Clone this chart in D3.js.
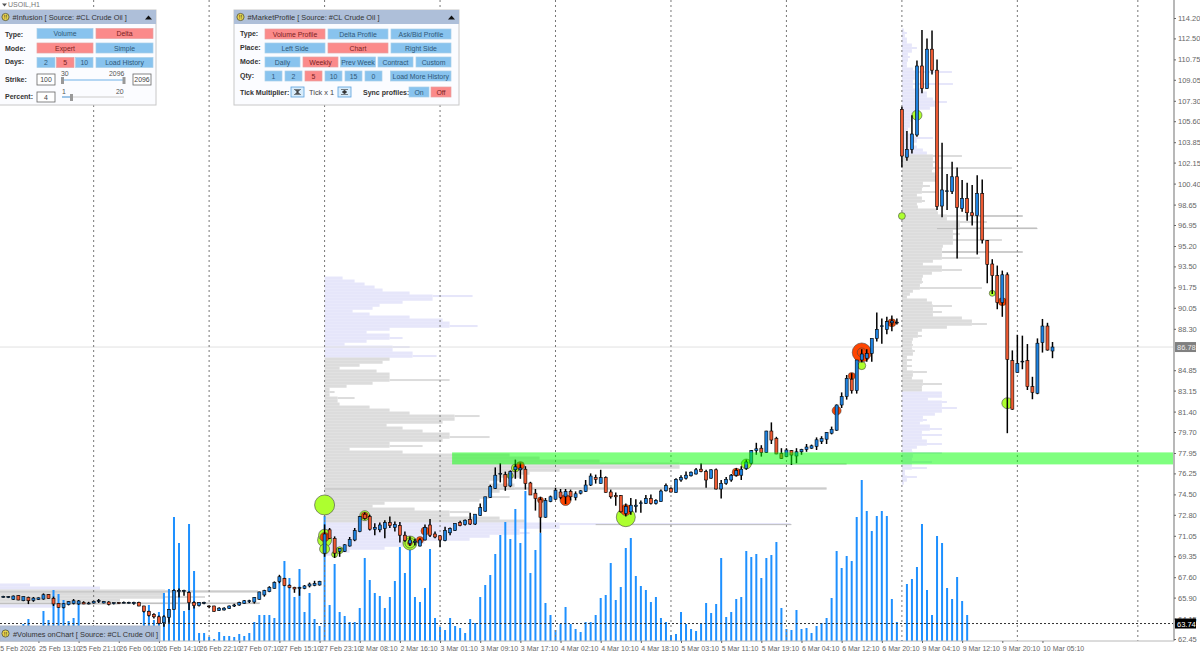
<!DOCTYPE html>
<html>
<head>
<meta charset="utf-8">
<style>
  html, body { margin: 0; padding: 0; background: #fff; overflow: hidden; }
  svg { display: block; font-family: "Liberation Sans", Arial, sans-serif; }
</style>
</head>
<body>
<svg id="chart" width="1200" height="654"></svg>
<script src="https://cdn.jsdelivr.net/npm/d3@7"></script>
<script>
// hourly candles, one value per bar
const opens = [
  65.92,65.90,65.76,66.06,65.64,65.92,65.67,65.75,65.78,66.17,
  65.84,65.42,65.06,65.31,65.42,65.37,65.50,65.37,65.45,65.60,
  65.45,65.53,65.40,65.48,65.48,65.47,65.40,65.50,65.20,64.76,
  64.50,64.30,63.80,64.26,64.92,66.40,66.42,66.31,65.48,65.23,
  65.42,65.20,65.20,64.82,64.87,65.00,65.20,65.28,65.42,65.56,
  65.53,65.76,66.12,66.40,66.67,67.23,67.50,66.92,66.76,66.65,
  66.67,66.87,66.92,66.95,69.60,71.55,70.84,69.75,69.75,70.20,
  70.70,71.40,72.85,72.65,71.60,71.55,71.65,72.15,71.75,71.90,
  71.10,70.40,70.50,70.20,70.70,71.95,71.20,71.05,70.65,71.30,
  71.50,72.15,71.98,72.40,72.03,72.75,73.10,74.25,75.00,76.25,
  76.15,75.20,76.55,76.55,76.60,75.45,74.60,74.05,72.60,73.90,
  74.10,74.70,74.30,74.75,74.25,74.60,74.75,75.28,75.90,75.42,
  75.90,74.70,74.40,74.40,72.90,73.05,73.50,73.75,73.75,74.15,
  73.75,73.90,74.80,75.00,74.65,75.70,75.85,76.05,76.20,76.60,
  76.40,75.85,76.55,74.95,75.42,75.70,76.10,76.10,76.65,77.10,
  78.15,78.35,77.98,79.78,79.17,77.92,77.65,78.15,77.70,78.05,
  78.25,78.35,78.50,78.90,79.10,79.60,79.85,81.95,82.65,84.10,
  83.15,85.70,85.85,86.25,87.50,88.50,88.25,88.80,88.80,106.58,
  102.60,103.25,104.45,110.20,108.33,111.60,109.85,98.53,99.80,99.73,
  100.97,98.33,99.17,97.97,97.73,99.58,95.65,93.70,92.73,90.48,
  92.80,85.65,84.65,85.55,85.65,83.48,82.93,87.15,88.53,86.45
];
const highs = [
  66.05,66.02,66.08,66.10,66.00,65.98,65.95,65.92,66.25,66.20,
  65.98,65.45,65.42,65.60,65.78,65.70,65.60,65.55,65.65,65.78,
  65.62,65.60,65.50,65.52,65.58,65.55,65.55,65.55,65.22,64.80,
  64.60,64.40,64.42,64.95,66.60,66.65,66.55,66.42,65.60,65.53,
  65.55,65.25,65.22,65.10,65.10,65.25,65.38,65.55,65.70,65.72,
  65.95,66.40,66.55,66.85,67.25,67.80,67.55,67.00,66.80,66.80,
  66.95,67.15,67.30,67.30,72.00,71.70,71.00,70.00,70.35,70.95,
  71.70,72.70,73.00,72.80,72.10,72.15,72.35,72.65,72.25,72.20,
  71.40,71.00,70.80,70.85,72.00,72.45,71.40,71.10,71.80,71.75,
  72.10,72.30,72.40,72.98,72.85,73.75,74.30,75.30,76.75,77.10,
  76.40,76.50,77.40,77.15,76.85,75.55,74.95,74.30,74.20,74.40,
  75.05,74.95,74.95,74.90,74.75,74.85,75.70,76.25,76.15,76.55,
  76.00,74.90,74.65,74.45,73.75,74.20,74.10,74.00,74.45,74.50,
  74.10,74.90,75.40,75.10,75.85,76.10,76.40,76.40,76.70,77.10,
  76.55,76.60,76.65,75.70,75.95,76.20,76.70,76.85,77.40,78.20,
  78.80,78.60,79.80,80.50,79.30,78.35,78.35,78.20,78.35,78.30,
  78.70,78.65,79.25,79.35,79.70,80.15,82.00,83.00,84.45,84.60,
  85.70,86.60,86.60,87.50,89.65,89.15,89.30,89.40,89.15,106.80,
  104.78,106.10,110.65,113.20,112.50,113.15,110.75,103.80,101.20,102.23,
  101.75,100.70,100.47,100.28,101.10,100.75,95.70,94.10,93.57,93.15,
  93.00,86.50,87.80,87.73,87.03,84.30,87.50,89.12,88.80,87.20
];
const lows = [
  65.90,65.86,65.70,65.68,65.60,65.36,65.55,65.70,65.72,65.80,
  65.20,65.05,65.00,65.25,65.33,65.30,65.35,65.33,65.40,65.45,
  65.42,65.25,65.33,65.38,65.42,65.40,65.30,65.18,64.65,64.32,
  64.15,63.68,63.47,63.80,64.90,65.90,66.05,64.87,65.00,65.15,
  65.35,65.02,64.72,64.78,64.82,64.95,65.12,65.22,65.38,65.45,
  65.40,65.72,65.98,66.35,66.65,67.10,66.85,66.68,66.30,66.05,
  66.60,66.75,66.85,66.90,69.30,70.80,69.20,69.30,69.70,70.15,
  70.60,71.35,72.40,71.50,71.10,71.35,70.85,71.70,71.40,70.50,
  70.55,70.20,70.25,70.15,70.65,70.95,70.85,70.10,70.60,71.10,
  71.45,71.85,71.90,71.95,71.95,72.70,73.05,74.20,74.95,75.50,
  74.80,75.10,75.80,75.80,74.90,74.45,73.15,71.30,72.55,73.85,
  74.05,74.10,73.70,74.00,74.00,74.50,74.70,75.20,75.40,75.40,
  74.65,74.15,73.55,73.00,72.65,72.80,73.00,72.97,73.70,73.65,
  73.65,73.88,74.75,74.65,74.63,75.55,75.75,76.00,76.15,76.35,
  75.05,75.80,74.90,74.15,75.30,75.55,76.00,75.70,76.55,77.00,
  77.80,77.65,77.95,78.70,77.85,77.45,77.60,76.95,77.10,77.80,
  78.05,78.30,78.20,78.70,78.70,79.50,79.80,81.70,82.40,82.90,
  82.90,85.50,85.55,85.55,87.25,87.05,87.85,88.10,88.65,101.75,
  102.30,102.90,104.30,107.92,108.30,109.50,98.20,97.60,98.20,99.53,
  94.15,98.05,97.30,96.90,94.50,95.40,92.10,91.20,89.93,89.30,
  79.60,81.55,84.65,84.93,83.20,82.43,82.85,86.32,86.48,85.85
];
const closes = [
  66.00,65.98,66.03,65.70,65.98,65.64,65.86,65.88,66.14,65.81,
  65.37,65.09,65.39,65.56,65.64,65.62,65.37,65.45,65.59,65.65,
  65.58,65.34,65.48,65.42,65.50,65.50,65.50,65.20,64.76,64.42,
  64.30,63.76,64.30,64.92,66.48,66.48,66.48,65.48,65.23,65.50,
  65.50,65.14,64.76,65.02,65.02,65.20,65.28,65.48,65.64,65.64,
  65.92,66.37,66.48,66.76,67.17,67.64,66.90,66.73,66.62,66.73,
  66.87,67.03,67.09,67.25,71.20,70.84,69.60,70.00,70.30,70.75,
  71.48,72.65,72.50,71.60,71.75,71.95,72.15,71.90,72.00,71.10,
  70.65,70.70,70.60,70.70,71.75,71.10,70.95,70.70,71.50,71.65,
  72.08,71.90,72.35,72.03,72.85,73.40,74.30,75.15,76.10,76.25,
  75.15,76.40,76.80,76.70,75.40,74.45,74.15,72.60,74.00,74.30,
  74.85,74.25,74.75,74.30,74.55,74.80,75.28,76.03,75.75,75.90,
  74.67,74.30,74.30,73.05,73.50,73.60,73.60,73.80,74.15,73.75,
  74.00,74.78,75.23,74.70,75.75,75.90,76.10,76.35,76.55,76.40,
  75.70,76.55,74.95,75.42,75.75,76.10,76.50,76.60,77.20,78.15,
  78.30,77.98,79.78,79.03,77.87,77.48,78.20,77.78,78.05,78.25,
  78.45,78.55,79.05,79.15,79.67,79.92,81.95,82.65,84.17,83.15,
  85.70,86.20,86.25,87.50,88.25,88.55,88.90,88.95,88.85,102.70,
  103.25,104.53,110.20,108.33,111.60,109.85,98.50,99.87,99.80,100.97,
  98.42,99.17,97.97,97.73,99.58,95.70,93.67,92.73,90.48,92.80,
  85.75,81.60,85.42,85.60,83.48,83.00,87.10,88.53,86.53,86.78
];

// tick volumes for the blue columns (the feed stops at bar 192)
const volumes = [
  6,5,7,8,17,22,9,10,30,21,
  51,47,41,20,23,40,8,6,7,5,
  6,4,7,5,6,8,7,9,33,36,
  21,29,48,52,124,98,30,117,70,8,
  8,4,2,9,5,5,4,7,5,8,
  19,26,26,26,23,60,80,63,44,72,
  29,48,22,15,125,36,77,29,25,19,
  19,33,83,61,48,45,33,44,60,94,
  68,94,44,39,53,92,23,14,11,23,
  15,13,8,22,18,44,56,66,87,106,
  119,102,132,98,150,68,91,108,38,26,
  11,17,34,17,12,9,19,19,26,43,
  46,78,41,54,93,103,65,55,51,39,
  44,23,19,6,7,29,17,12,10,18,
  38,28,37,83,24,29,42,44,90,84,
  87,63,83,86,99,33,12,11,31,12,
  13,8,15,18,23,43,90,73,85,80,
  124,161,130,110,125,130,125,42,19,1,
  57,62,74,117,51,26,105,98,53,42,
  64,40,26
];

const priceTicks = [114.20,112.50,110.75,109.05,107.30,105.60,103.85,102.15,100.40,98.65,
  96.95,95.20,93.50,91.75,90.05,88.30,84.85,83.15,81.40,79.70,77.95,76.25,74.50,72.80,
  71.05,69.35,67.60,65.90,64.15,62.45];
const timeTickBars = d3.range(-1, 208, 8);
const timeLabels = ["25 Feb 2026","25 Feb 13:10","25 Feb 21:10","26 Feb 06:10","26 Feb 14:10",
  "26 Feb 22:10","27 Feb 07:10","27 Feb 15:10","27 Feb 23:10","2 Mar 08:10","2 Mar 16:10",
  "3 Mar 01:10","3 Mar 09:10","3 Mar 17:10","4 Mar 02:10","4 Mar 10:10","4 Mar 18:10",
  "5 Mar 03:10","5 Mar 11:10","5 Mar 19:10","6 Mar 04:10","6 Mar 12:10","6 Mar 20:10",
  "9 Mar 04:10","9 Mar 12:10","9 Mar 20:10","10 Mar 05:10"];
const separatorBars = [18,41,64,87,110,133,156,179,202,226];

// weekly market profiles: volume per 0.25 price row, top row first
const profileOneBar = -0.66, profileOneTop = 66.95, profileOneGrey = [65.4, 66.6];
const profileOne = [30,100,258,165,205,120,260,55];

const profileTwoBar = 64, profileTwoTop = 92.53, profileTwoGrey = [72.2, 85.87];
const profileTwo = [
  18,30,40,50,58,85,148,108,78,55,48,28,45,85,118,125,153,65,42,65,78,42,20,85,68,88,112,
  65,58,35,15,52,65,65,125,48,22,5,10,5,30,13,15,45,65,85,155,130,118,62,78,98,125,165,118,65,98,25,78,
  185,215,275,522,355,235,205,195,175,165,190,502,175,165,185,155,60,48,90,145,125,175,200,
  466,235,195,205,165,145,100,90,60,25,10
];

const profileThreeBar = 179, profileThreeTop = 113.2, profileThreeGrey = [83.03, 102.78];
const profileThree = [
  2,5,3,5,5,10,15,10,6,8,6,5,5,11,50,13,13,11,51,11,21,25,25,31,45,33,28,13,11,10,10,8,8,6,6,11,31,15,11,15,21,25,
  60,31,33,31,110,30,33,35,35,21,28,20,35,15,20,23,15,16,35,36,121,45,85,58,135,51,58,51,
  100,51,41,40,121,40,78,31,21,40,60,30,21,20,21,18,80,11,8,5,25,30,50,31,40,31,60,70,85,45,
  20,16,20,11,10,11,10,13,11,5,10,5,10,5,25,11,10,21,40,20,20,
  40,40,26,45,40,55,40,33,21,25,18,28,40,20,40,20,
  25,40,15,10,40,11,10,30,10,25,3,3,15,5,2
];

// profile level lines: price, first bar, last bar
const levelPrices = [66.37,65.40,74.95,71.98,97.70,96.65,94.70];
const levelFrom =   [-1,-1,64,118,194,186,187];
const levelTo =     [51,51,164,157,203,206,203];

// supply zone
const zoneHigh = 78.0, zoneLow = 77.0, zoneFromBar = 89.4, zoneToBar = 233.2;

// infusion bubbles
const dotBars =   [64,64,64,64,64,66,67,72,72,81,81,81,83,84,101,102,103,107,112,124,124,146,148,166,169,171,171,171,177,177,182,179,197,199,200];
const dotPrices = [73.62,70.7,69.95,71.1,70.95,69.5,69.85,72.73,72.73,70.45,70.45,70.45,70.7,71.45,76.05,76.7,76.9,74.03,74.03,72.6,73.2,76.35,77.03,81.48,84.37,86.33,86.33,85.23,88.8,88.8,106.1,97.7,91.26,90.56,82.1];
const dotSizes =  [100,49,25,36,20,9,12,25,12,49,25,6,12,16,9,16,16,9,30,90,30,16,25,20,12,90,20,16,16,4,25,12,9,16,30];
const dotSides =  ["b","b","b","b","s","b","b","b","s","b","b","s","s","s","b","b","s","s","s","b","s","s","b","s","s","s","s","b","s","s","b","b","b","s","b"];

const lastPrice = 86.78, volumeLevel = 63.74;

const svg = d3.select("#chart");
const axisX = 1174, axisY = 641;

const x = d3.scaleLinear().domain([0, 209]).range([3.3, 1052.5]);
const y = d3.scaleLinear().domain([62.45, 114.2]).range([639, 18]);
const vol = d3.scaleLinear().domain([0, 161]).range([641, 480]);
const vpWidth = d3.scaleLinear().domain([0, 522]).range([0, 522]);
const dotR = d3.scaleSqrt().domain([0, 100]).range([0, 10]);

// a row sticking out past both neighbours is a thin peak, the rest is the solid body
function drawProfile(rows, startBar, topPrice, grey) {
  const g = svg.append("g");
  const rowH = y(0.25) - y(0.5);
  const tone = k => {
    const p = topPrice - k * 0.25;
    return p >= grey[0] && p <= grey[1] ? "#dcdcdc" : "#e6e6fa";
  };
  const body = (d, k) => Math.min(d, Math.max(rows[k - 1] || 0, rows[k + 1] || 0));
  g.selectAll("rect.body").data(rows).join("rect").attr("class", "body")
    .attr("x", x(startBar))
    .attr("y", (d, k) => y(topPrice - k * 0.25) - rowH / 2)
    .attr("width", (d, k) => vpWidth(body(d, k)))
    .attr("height", rowH + 0.2)
    .attr("fill", (d, k) => tone(k));
  g.selectAll("rect.peak").data(rows).join("rect").attr("class", "peak")
    .attr("x", (d, k) => x(startBar) + vpWidth(body(d, k)))
    .attr("y", (d, k) => y(topPrice - k * 0.25) - 1)
    .attr("width", (d, k) => vpWidth(d - body(d, k)))
    .attr("height", 2)
    .attr("fill", (d, k) => tone(k));
}
drawProfile(profileOne, profileOneBar, profileOneTop, profileOneGrey);
drawProfile(profileTwo, profileTwoBar, profileTwoTop, profileTwoGrey);
drawProfile(profileThree, profileThreeBar, profileThreeTop, profileThreeGrey);

svg.append("g").selectAll("line").data(levelPrices).join("line")
  .attr("x1", (d, k) => Math.max(0, x(levelFrom[k])))
  .attr("x2", (d, k) => x(levelTo[k]))
  .attr("y1", d => y(d)).attr("y2", d => y(d))
  .attr("stroke", "#bdbdbd")
  .attr("stroke-width", 1);

// crosshair at last price
svg.append("line").attr("x1", 0).attr("x2", axisX).attr("y1", y(lastPrice)).attr("y2", y(lastPrice))
  .attr("stroke", "#e2e2e2");

// volume columns
svg.append("g").selectAll("rect").data(volumes).join("rect")
  .attr("x", (d, k) => x(k) - 1)
  .attr("y", d => vol(d))
  .attr("width", 2)
  .attr("height", d => vol(0) - vol(d))
  .attr("fill", "#1e90ff");

// period separators
svg.append("g").selectAll("line").data(separatorBars).join("line")
  .attr("x1", d => x(d)).attr("x2", d => x(d))
  .attr("y1", 0).attr("y2", axisY)
  .attr("stroke", "#777").attr("stroke-dasharray", "2,3");

// bubbles sit under the candles
svg.append("g").selectAll("circle").data(dotBars).join("circle")
  .attr("cx", d => x(d))
  .attr("cy", (d, k) => y(dotPrices[k]))
  .attr("r", (d, k) => dotR(dotSizes[k]))
  .attr("fill", (d, k) => dotSides[k] === "b" ? "#adff2f" : "#ff4500")
  .attr("stroke", "#444").attr("stroke-width", 0.6);

// candles
const candles = svg.append("g").selectAll("g").data(opens).join("g");
candles.append("line")
  .attr("x1", (d, k) => x(k)).attr("x2", (d, k) => x(k))
  .attr("y1", (d, k) => y(highs[k])).attr("y2", (d, k) => y(lows[k]))
  .attr("stroke", "#000").attr("stroke-width", 1.5);
candles.append("rect")
  .attr("x", (d, k) => x(k) - 1.5)
  .attr("y", (d, k) => y(Math.max(d, closes[k])))
  .attr("width", 3)
  .attr("height", (d, k) => Math.max(0.8, Math.abs(y(d) - y(closes[k]))))
  .attr("fill", (d, k) => closes[k] >= d ? "#1e82e0" : "#ee5a32")
  .attr("stroke", "#000").attr("stroke-width", 0.6);

// zone drawn over the candles, half transparent
svg.append("rect")
  .attr("x", x(zoneFromBar)).attr("width", x(zoneToBar) - x(zoneFromBar))
  .attr("y", y(zoneHigh)).attr("height", y(zoneLow) - y(zoneHigh))
  .attr("fill", "#00ff00").attr("fill-opacity", 0.5);

// dotted level line with black tag
svg.append("line").attr("x1", 0).attr("x2", axisX).attr("y1", y(volumeLevel)).attr("y2", y(volumeLevel))
  .attr("stroke", "#333").attr("stroke-dasharray", "2,2");

// axes
const axisRight = d3.axisRight(y).tickValues(priceTicks).tickFormat(d3.format(".2f")).tickSize(2).tickPadding(2);
const gy = svg.append("g").attr("transform", `translate(${axisX},0)`).call(axisRight);
gy.select(".domain").attr("stroke", "#b8b8b8").attr("stroke-width", 2).attr("d", `M0,0V${axisY}`);
gy.selectAll("line").attr("stroke", "#666");
gy.selectAll("text").attr("fill", "#666").attr("font-size", 7.5).attr("font-family", "Liberation Sans");

const axisBottom = d3.axisBottom(x).tickValues(timeTickBars)
  .tickFormat((d, k) => timeLabels[k]).tickSize(2).tickPadding(3);
const gx = svg.append("g").attr("transform", `translate(0,${axisY})`).call(axisBottom);
gx.select(".domain").attr("stroke", "#b8b8b8").attr("stroke-width", 1).attr("d", `M0,0H${axisX}`);
gx.selectAll("line").attr("stroke", "#666");
gx.selectAll("text").attr("fill", "#666").attr("font-size", 7).attr("font-family", "Liberation Sans")
  .attr("text-anchor", "start")
  .attr("dx", (d, k) => k === 0 ? -2.5 : 0);

function priceTag(price, fill, color) {
  svg.append("rect").attr("x", axisX + 1).attr("y", y(price) - 5).attr("width", 21).attr("height", 10).attr("fill", fill);
  svg.append("text").attr("x", axisX + 3).attr("y", y(price) + 3).attr("font-size", 7.5).attr("fill", color)
    .text(d3.format(".2f")(price));
}
priceTag(lastPrice, "#808080", "#eee");
priceTag(volumeLevel, "#000", "#fff");

// --- panels on top of the chart ---
const BLUE = "#88c3ee", RED = "#fb8a8a", HEAD = "#aebfd9";

function icon(g, cx, cy) {
  g.append("circle").attr("cx", cx).attr("cy", cy).attr("r", 3.6).attr("fill", "#e8d44a").attr("stroke", "#6b6b4a").attr("stroke-width", 1);
  g.append("text").attr("x", cx).attr("y", cy + 2.2).attr("text-anchor", "middle").attr("font-size", 6).attr("fill", "#222").text("!!");
}
function button(g, x0, y0, x1, y1, label, on) {
  g.append("rect").attr("x", x0).attr("y", y0).attr("width", x1 - x0).attr("height", y1 - y0)
    .attr("fill", on ? RED : BLUE).attr("stroke", on ? "#e8a0a0" : "#a9cfe8").attr("stroke-width", 0.7);
  g.append("text").attr("x", (x0 + x1) / 2).attr("y", (y0 + y1) / 2 + 2.5).attr("text-anchor", "middle")
    .attr("font-size", 6.9).attr("fill", on ? "#7a2222" : "#2f5878").text(label);
}
function label(g, x0, y0, txt, bold) {
  g.append("text").attr("x", x0).attr("y", y0).attr("font-size", 7).attr("fill", "#333")
    .attr("font-weight", bold ? "bold" : "normal").text(txt);
}
function panel(x0, y0, x1, y1, title) {
  const g = svg.append("g");
  g.append("rect").attr("x", x0).attr("y", y0).attr("width", x1 - x0).attr("height", y1 - y0)
    .attr("fill", "#fbfcff").attr("stroke", "#c8c8c8");
  g.append("rect").attr("x", x0).attr("y", y0).attr("width", x1 - x0).attr("height", 14).attr("fill", HEAD);
  icon(g, x0 + 6.5, y0 + 7);
  g.append("text").attr("x", x0 + 13.5).attr("y", y0 + 9.8).attr("font-size", 7.4).attr("fill", "#333").text(title);
  g.append("path").attr("d", `M${x1 - 11},${y0 + 9.5}l3.5,-4l3.5,4z`).attr("fill", "#111");
  return g;
}
function box(g, x0, y0, x1, y1, txt) {
  g.append("rect").attr("x", x0).attr("y", y0).attr("width", x1 - x0).attr("height", y1 - y0)
    .attr("fill", "#fff").attr("stroke", "#666").attr("stroke-width", 0.8);
  g.append("text").attr("x", (x0 + x1) / 2).attr("y", (y0 + y1) / 2 + 2.5).attr("text-anchor", "middle")
    .attr("font-size", 6.9).attr("fill", "#444").text(txt);
}

// Infusion panel
const p1 = panel(-1, 10, 156, 105, "#Infusion [ Source: #CL Crude Oil ]");
label(p1, 5, 36.5, "Type:", true);
button(p1, 37, 28.5, 93, 38.5, "Volume", false);
button(p1, 96, 28.5, 153, 38.5, "Delta", true);
label(p1, 5, 50.5, "Mode:", true);
button(p1, 37, 43, 93, 53, "Expert", true);
button(p1, 96, 43, 153, 53, "Simple", false);
label(p1, 5, 64, "Days:", true);
button(p1, 37, 57.5, 55, 67.5, "2", false);
button(p1, 56.5, 57.5, 74, 67.5, "5", true);
button(p1, 75.5, 57.5, 93, 67.5, "10", false);
button(p1, 96, 57.5, 153, 67.5, "Load History", false);
label(p1, 5, 82, "Strike:", true);
box(p1, 37, 74, 55, 85, "100");
box(p1, 133, 74, 151, 85, "2096");
label(p1, 5, 99, "Percent:", true);
box(p1, 37, 92, 55, 102, "4");
p1.append("line").attr("x1", 62).attr("x2", 124).attr("y1", 80).attr("y2", 80).attr("stroke", "#6fb0e8").attr("stroke-width", 1.2);
p1.append("rect").attr("x", 61).attr("y", 77).attr("width", 3).attr("height", 7).attr("fill", "#999");
p1.append("rect").attr("x", 122.5).attr("y", 77).attr("width", 3).attr("height", 7).attr("fill", "#999");
p1.append("text").attr("x", 61).attr("y", 76).attr("font-size", 6.9).attr("fill", "#555").text("30");
p1.append("text").attr("x", 109).attr("y", 76).attr("font-size", 6.9).attr("fill", "#555").text("2096");
p1.append("line").attr("x1", 62).attr("x2", 124).attr("y1", 97).attr("y2", 97).attr("stroke", "#ddd").attr("stroke-width", 1.5);
p1.append("line").attr("x1", 62).attr("x2", 71).attr("y1", 97).attr("y2", 97).attr("stroke", "#6fb0e8").attr("stroke-width", 1.2);
p1.append("rect").attr("x", 70).attr("y", 94).attr("width", 3).attr("height", 7).attr("fill", "#999");
p1.append("text").attr("x", 62).attr("y", 93.5).attr("font-size", 6.9).attr("fill", "#555").text("1");
p1.append("text").attr("x", 116).attr("y", 93.5).attr("font-size", 6.9).attr("fill", "#555").text("20");

// MarketProfile panel
const p2 = panel(234, 10, 459, 105, "#MarketProfile [ Source: #CL Crude Oil ]");
label(p2, 240, 36, "Type:", true);
button(p2, 265, 29, 325, 39, "Volume Profile", true);
button(p2, 328, 29, 388, 39, "Delta Profile", false);
button(p2, 391, 29, 451, 39, "Ask/Bid Profile", false);
label(p2, 240, 50, "Place:", true);
button(p2, 265, 43, 325, 53, "Left Side", false);
button(p2, 328, 43, 388, 53, "Chart", true);
button(p2, 391, 43, 451, 53, "Right Side", false);
label(p2, 240, 64, "Mode:", true);
button(p2, 265, 57, 300, 67, "Daily", false);
button(p2, 303, 57, 338, 67, "Weekly", true);
button(p2, 340.5, 57, 375.5, 67, "Prev Week", false);
button(p2, 378, 57, 413, 67, "Contract", false);
button(p2, 416, 57, 451, 67, "Custom", false);
label(p2, 240, 78, "Qty:", true);
button(p2, 265, 71, 282, 81, "1", false);
button(p2, 285, 71, 302, 81, "2", false);
button(p2, 305, 71, 322, 81, "5", true);
button(p2, 325, 71, 342, 81, "10", false);
button(p2, 345, 71, 362, 81, "15", false);
button(p2, 365, 71, 382, 81, "0", false);
button(p2, 390.5, 71, 451, 81, "Load More History", false);
label(p2, 240, 95, "Tick Multiplier:", true);
[291, 338].forEach((bx, n) => {
  p2.append("rect").attr("x", bx).attr("y", 87).attr("width", 13).attr("height", 10).attr("fill", "#d8ecfb").attr("stroke", "#5aa0dd").attr("stroke-width", 0.8);
  p2.append("path").attr("d", `M${bx + 3},89.5h7M${bx + 3},94.5h7` + (n === 0 ? `M${bx + 4.5},90.5l2,1.5l2,-1.5zM${bx + 4.5},93.5l2,-1.5l2,1.5z` : `M${bx + 4.5},92l2,-2l2,2zM${bx + 4.5},92l2,2l2,-2z`))
    .attr("stroke", "#333").attr("stroke-width", 0.6).attr("fill", "#333");
});
p2.append("text").attr("x", 309).attr("y", 95).attr("font-size", 7.4).attr("fill", "#444").text("Tick x 1");
label(p2, 363, 95, "Sync profiles:", true);
button(p2, 409, 87, 429, 97, "On", false);
button(p2, 431, 87, 451, 97, "Off", true);

// Volumes onChart strip
const p3 = svg.append("g");
p3.append("rect").attr("x", 0).attr("y", 626).attr("width", 160).attr("height", 15).attr("fill", HEAD).attr("stroke", "#b0b8c8");
icon(p3, 5.5, 633.5);
p3.append("text").attr("x", 13).attr("y", 636.5).attr("font-size", 7.4).attr("fill", "#333")
  .text("#Volumes onChart [ Source: #CL Crude Oil ]");

// symbol caption
svg.append("path").attr("d", "M2,3.5h5l-2.5,3z").attr("fill", "#555");
svg.append("text").attr("x", 8).attr("y", 7).attr("font-size", 7).attr("fill", "#777").text("USOIL,H1");
</script>
</body>
</html>
